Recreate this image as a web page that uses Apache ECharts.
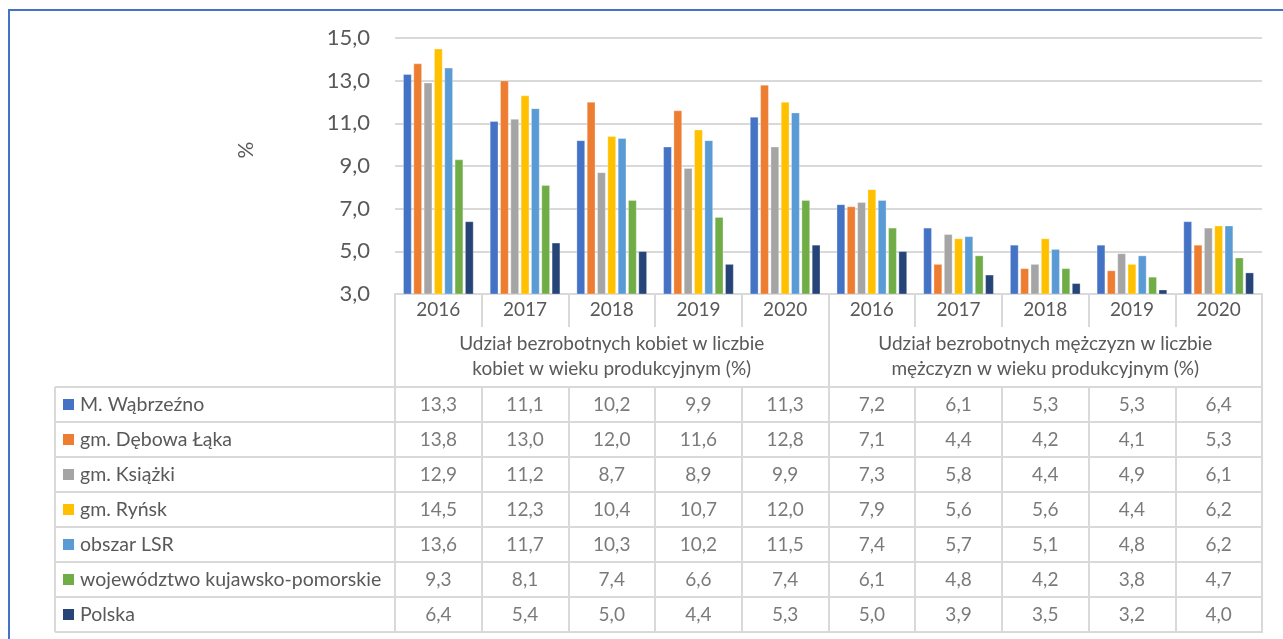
<!DOCTYPE html>
<html>
<head>
<meta charset="utf-8">
<script src="https://cdn.jsdelivr.net/npm/echarts@6/dist/echarts.min.js"></script>
<style>
  html, body { margin: 0; padding: 0; background: #fff; }
  #chart { width: 1283px; height: 639px; }
</style>
</head>
<body>
<div id="chart"></div>
<script>
const years = ['2016', '2017', '2018', '2019', '2020', '2016', '2017', '2018', '2019', '2020']
const groups = [
  'Udział bezrobotnych kobiet w liczbie\nkobiet w wieku produkcyjnym (%)',
  'Udział bezrobotnych mężczyzn w liczbie\nmężczyzn w wieku produkcyjnym (%)',
]
const seriesNames = [
  'M. Wąbrzeźno',
  'gm. Dębowa Łąka',
  'gm. Książki',
  'gm. Ryńsk',
  'obszar LSR',
  'województwo kujawsko-pomorskie',
  'Polska',
]
const colors = ['#4472C4', '#ED7D31', '#A5A5A5', '#FFC000', '#5B9BD5', '#70AD47', '#264478']

const wabrzezno = [13.3, 11.1, 10.2, 9.9, 11.3, 7.2, 6.1, 5.3, 5.3, 6.4]
const debowaLaka = [13.8, 13.0, 12.0, 11.6, 12.8, 7.1, 4.4, 4.2, 4.1, 5.3]
const ksiazki = [12.9, 11.2, 8.7, 8.9, 9.9, 7.3, 5.8, 4.4, 4.9, 6.1]
const rynsk = [14.5, 12.3, 10.4, 10.7, 12.0, 7.9, 5.6, 5.6, 4.4, 6.2]
const obszarLsr = [13.6, 11.7, 10.3, 10.2, 11.5, 7.4, 5.7, 5.1, 4.8, 6.2]
const kujPom = [9.3, 8.1, 7.4, 6.6, 7.4, 6.1, 4.8, 4.2, 3.8, 4.7]
const polska = [6.4, 5.4, 5.0, 4.4, 5.3, 5.0, 3.9, 3.5, 3.2, 4.0]
const seriesValues = [wabrzezno, debowaLaka, ksiazki, rynsk, obszarLsr, kujPom, polska]

const yMin = 3
const yMax = 15
const yStep = 2

// layout
const PLOT_LEFT = 395
const PLOT_RIGHT = 21
const PLOT_TOP = 38
const PLOT_BOTTOM_Y = 294
const TABLE_TOP = 387
const ROW_H = 35
const LEGEND_LEFT = 55
const LINE = '#d9d9d9'
const TEXT = '#595959'
const FONT = 'Lato, "Liberation Sans", sans-serif'

const fmt = (v) => v.toFixed(1).replace('.', ',')

const chart = echarts.init(document.getElementById('chart'))

const legendRich = {}
colors.forEach((c, i) => {
  legendRich['s' + i] = { width: 11, height: 11, backgroundColor: c }
})
legendRich.t = { fontSize: 19.5, color: TEXT, fontFamily: FONT, padding: [0, 0, 0, 6] }

const tableCells = []
seriesValues.forEach((vals, r) => {
  vals.forEach((v, c) => tableCells.push([c, r, v]))
})

// borders of the legend column on the left of the data table
const legendLines = []
for (let i = 0; i <= seriesNames.length; i++) {
  legendLines.push({
    type: 'line',
    shape: { x1: LEGEND_LEFT, y1: TABLE_TOP + i * ROW_H, x2: PLOT_LEFT, y2: TABLE_TOP + i * ROW_H },
    style: { stroke: LINE, lineWidth: 2 },
    silent: true,
  })
}
legendLines.push({
  type: 'line',
  shape: { x1: LEGEND_LEFT, y1: TABLE_TOP, x2: LEGEND_LEFT, y2: TABLE_TOP + seriesNames.length * ROW_H },
  style: { stroke: LINE, lineWidth: 2 },
  silent: true,
})

const option = {
  animation: false,
  backgroundColor: '#fff',
  textStyle: { fontFamily: FONT },
  graphic: [
    {
      type: 'rect',
      shape: { x: 9, y: 10, width: 1400, height: 800 },
      style: { fill: 'none', stroke: '#4472C4', lineWidth: 2 },
      silent: true,
    },
    ...legendLines,
  ],
  grid: [
    { left: PLOT_LEFT, right: PLOT_RIGHT, top: PLOT_TOP, height: PLOT_BOTTOM_Y - PLOT_TOP },
    {
      left: PLOT_LEFT,
      right: PLOT_RIGHT,
      top: TABLE_TOP,
      height: seriesNames.length * ROW_H,
      show: true,
      borderColor: LINE,
      borderWidth: 2,
    },
  ],
  xAxis: [
    {
      type: 'category',
      gridIndex: 0,
      data: years,
      position: 'bottom',
      axisLine: { show: true, lineStyle: { color: LINE, width: 2 } },
      axisTick: { show: true, length: 33, interval: 0, lineStyle: { color: LINE, width: 2 } },
      axisLabel: { interval: 0, margin: 6, fontSize: 19, color: TEXT, fontFamily: FONT },
    },
    {
      type: 'category',
      gridIndex: 0,
      data: groups,
      position: 'bottom',
      offset: 0,
      axisLine: { show: false },
      axisTick: { show: true, length: TABLE_TOP - PLOT_BOTTOM_Y, interval: 0, lineStyle: { color: LINE, width: 2 } },
      axisLabel: { interval: 0, margin: 37, fontSize: 19, lineHeight: 25, color: TEXT, fontFamily: FONT },
    },
    {
      type: 'category',
      gridIndex: 1,
      data: years,
      axisLine: { show: false },
      axisTick: { show: false },
      axisLabel: { show: false },
      splitLine: { show: true, interval: 0, lineStyle: { color: LINE, width: 2 } },
    },
  ],
  yAxis: [
    {
      type: 'value',
      gridIndex: 0,
      min: yMin,
      max: yMax,
      interval: yStep,
      name: '%',
      nameLocation: 'middle',
      nameGap: 138,
      nameRotate: 90,
      nameTextStyle: { fontSize: 21, color: TEXT, fontFamily: FONT, padding: [0, 0, 0, 32] },
      axisLine: { show: false },
      axisTick: { show: false },
      axisLabel: { formatter: fmt, fontSize: 22, color: TEXT, margin: 25, fontFamily: FONT },
      splitLine: { lineStyle: { color: LINE, width: 2 } },
    },
    {
      type: 'category',
      gridIndex: 1,
      data: seriesNames,
      inverse: true,
      axisLine: { show: false },
      axisTick: { show: false },
      axisLabel: {
        interval: 0,
        align: 'left',
        margin: PLOT_LEFT - 63,
        formatter: (v, i) => `{s${i}|}{t|${v}}`,
        rich: legendRich,
      },
      splitLine: { show: true, interval: 0, lineStyle: { color: LINE, width: 2 } },
    },
  ],
  series: [
    ...seriesNames.map((name, i) => ({
      name,
      type: 'bar',
      xAxisIndex: 0,
      yAxisIndex: 0,
      data: seriesValues[i],
      barGap: '24%',
      barCategoryGap: '19%',
      itemStyle: { color: colors[i], borderColor: 'rgba(255,255,255,0.6)', borderWidth: 0.5 },
      silent: true,
    })),
    {
      type: 'scatter',
      xAxisIndex: 2,
      yAxisIndex: 1,
      data: tableCells,
      symbolSize: 1,
      itemStyle: { color: 'transparent' },
      label: {
        show: true,
        position: 'inside',
        formatter: (p) => fmt(p.value[2]),
        fontSize: 19,
        color: TEXT,
        fontFamily: FONT,
      },
      silent: true,
    },
  ],
}

chart.setOption(option)
</script>
</body>
</html>
